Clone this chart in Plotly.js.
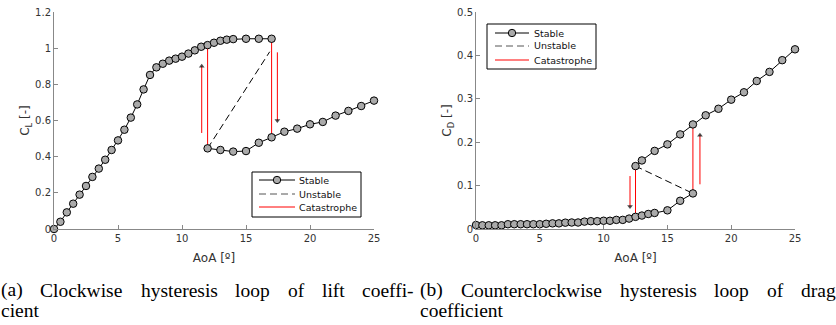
<!DOCTYPE html>
<html><head><meta charset="utf-8">
<script src="https://cdn.plot.ly/plotly-3.0.1.min.js"></script>
<style>html,body{margin:0;padding:0;background:#fff;} #chart{width:836px;height:325px;}</style>
</head><body><div id="chart"></div>
<script>
// ---------- (a) lift coefficient ----------
const clUpperAoA = [0,0.5,1,1.5,2,2.5,3,3.5,4,4.5,5,5.5,6,6.5,7,7.5,8,8.5,9,9.5,10,10.5,11,11.5,12,12.5,13,13.5,14,15,16,17];
const clUpperVal = [0,0.04,0.092,0.14,0.19,0.238,0.288,0.334,0.383,0.437,0.49,0.549,0.616,0.689,0.772,0.852,0.894,0.914,0.931,0.942,0.953,0.97,0.988,1.008,1.017,1.03,1.041,1.047,1.05,1.052,1.052,1.052];
const clLowerAoA = [12,13,14,15,16,17,18,19,20,21,22,23,24,25];
const clLowerVal = [0.446,0.437,0.428,0.431,0.477,0.507,0.538,0.555,0.579,0.592,0.627,0.653,0.68,0.71];
const clUnstableAoA = [12,16.85];
const clUnstableVal = [0.446,0.98];
const clJump1AoA = [12,12];
const clJump1Val = [0.446,1.017];
const clJump2AoA = [17,17];
const clJump2Val = [1.052,0.507];
const clArrowUpAoA = [11.54,11.54];
const clArrowUpVal = [0.531,0.9];
const clArrowDownAoA = [17.45,17.45];
const clArrowDownVal = [0.977,0.6];

// ---------- (b) drag coefficient ----------
const cdLowerAoA = [0,0.5,1,1.5,2,2.5,3,3.5,4,4.5,5,5.5,6,6.5,7,7.5,8,8.5,9,9.5,10,10.5,11,11.5,12,12.5,13,13.5,14,15,16,17];
const cdLowerVal = [0.0092,0.0085,0.0085,0.0085,0.0085,0.011,0.011,0.011,0.011,0.011,0.011,0.012,0.013,0.013,0.0146,0.015,0.015,0.017,0.018,0.018,0.019,0.019,0.021,0.021,0.024,0.028,0.031,0.0346,0.037,0.043,0.065,0.082];
const cdUpperAoA = [12.5,13,14,15,16,17,18,19,20,21,22,23,24,25];
const cdUpperVal = [0.145,0.158,0.18,0.195,0.218,0.241,0.262,0.277,0.298,0.315,0.341,0.362,0.389,0.414];
const cdUnstableAoA = [12.5,17];
const cdUnstableVal = [0.145,0.082];
const cdJump1AoA = [12.5,12.5];
const cdJump1Val = [0.145,0.028];
const cdJump2AoA = [17,17];
const cdJump2Val = [0.082,0.241];
const cdArrowDownAoA = [12.07,12.07];
const cdArrowDownVal = [0.122,0.052];
const cdArrowUpAoA = [17.55,17.55];
const cdArrowUpVal = [0.103,0.216];

// ---------- text ----------
const xTicks = [0,5,10,15,20,25];
const clTicks = [0,0.2,0.4,0.6,0.8,1,1.2];
const clTickText = ['0','0.2','0.4','0.6','0.8','1','1.2'];
const cdTicks = [0,0.1,0.2,0.3,0.4,0.5];
const cdTickText = ['0','0.1','0.2','0.3','0.4','0.5'];
const legendNames = ['Stable','Unstable','Catastrophe'];
const captionA1 = '(a) Clockwise hysteresis loop of lift coeffi-';
const captionA2 = 'cient';
const captionB1 = '(b) Counterclockwise hysteresis loop of drag';
const captionB2 = 'coefficient';

const W = 836, H = 325;
const px = v => v / W;
const py = v => 1 - v / H;

const MARK = {size: 7.5, color: '#aaaaaa', line: {color: '#000', width: 1}};
function stable(x, y, xa, ya) {
  return {x, y, xaxis: xa, yaxis: ya, type: 'scatter', mode: 'lines+markers', cliponaxis: false,
    line: {color: '#000', width: 1}, marker: MARK, showlegend: false, hoverinfo: 'skip'};
}
function unstable(x, y, xa, ya) {
  return {x, y, xaxis: xa, yaxis: ya, type: 'scatter', mode: 'lines', cliponaxis: false,
    line: {color: '#000', width: 1, dash: '7px,4px'}, showlegend: false, hoverinfo: 'skip'};
}
function jump(x, y, xa, ya) {
  return {x, y, xaxis: xa, yaxis: ya, type: 'scatter', mode: 'lines', cliponaxis: false,
    line: {color: '#ff0000', width: 1}, showlegend: false, hoverinfo: 'skip'};
}
function arrow(x, y, xa, ya) {
  const up = y[1] > y[0];
  return {x, y, xaxis: xa, yaxis: ya, type: 'scatter', mode: 'lines+markers', cliponaxis: false,
    line: {color: '#ff0000', width: 1},
    marker: {symbol: ['circle', up ? 'triangle-up' : 'triangle-down'], size: [0, 5], color: '#000', line: {width: 0}},
    showlegend: false, hoverinfo: 'skip'};
}

const data = [
  unstable(clUnstableAoA, clUnstableVal, 'x', 'y'),
  jump(clJump1AoA, clJump1Val, 'x', 'y'),
  jump(clJump2AoA, clJump2Val, 'x', 'y'),
  arrow(clArrowUpAoA, clArrowUpVal, 'x', 'y'),
  arrow(clArrowDownAoA, clArrowDownVal, 'x', 'y'),
  stable(clUpperAoA, clUpperVal, 'x', 'y'),
  stable(clLowerAoA, clLowerVal, 'x', 'y'),
  unstable(cdUnstableAoA, cdUnstableVal, 'x2', 'y2'),
  jump(cdJump1AoA, cdJump1Val, 'x2', 'y2'),
  jump(cdJump2AoA, cdJump2Val, 'x2', 'y2'),
  arrow(cdArrowDownAoA, cdArrowDownVal, 'x2', 'y2'),
  arrow(cdArrowUpAoA, cdArrowUpVal, 'x2', 'y2'),
  stable(cdLowerAoA, cdLowerVal, 'x2', 'y2'),
  stable(cdUpperAoA, cdUpperVal, 'x2', 'y2')
];

const tickFont = {family: 'DejaVu Sans, sans-serif', size: 10, color: '#333'};
const titleFont = {family: 'DejaVu Sans, sans-serif', size: 12, color: '#333'};
function xAxis(domain, anchor) {
  return {domain, anchor, range: [0, 25], tickvals: xTicks, ticktext: xTicks.map(String),
    ticks: 'inside', ticklen: 4, tickcolor: '#888', showline: true, linecolor: '#888', linewidth: 1,
    showgrid: false, zeroline: false, tickfont: tickFont, fixedrange: true,
    title: {text: 'AoA [º]', font: titleFont, standoff: 10}};
}
function yAxis(domain, anchor, range, vals, text, title) {
  return {domain, anchor, range, tickvals: vals, ticktext: text,
    ticks: 'inside', ticklen: 4, tickcolor: '#888', showline: true, linecolor: '#888', linewidth: 1,
    showgrid: false, zeroline: false, tickfont: tickFont, fixedrange: true,
    title: {text: title, font: titleFont, standoff: 2}};
}

// custom legends
const shapes = [];
const annotations = [];
function legend(box, rows, sx0, sx1, mx, tx) {
  shapes.push({type: 'rect', xref: 'paper', yref: 'paper', x0: px(box[0]), x1: px(box[1]), y0: py(box[2]), y1: py(box[3]),
    line: {color: '#000', width: 1}, fillcolor: '#fff', layer: 'above'});
  shapes.push({type: 'line', xref: 'paper', yref: 'paper', x0: px(sx0), x1: px(sx1), y0: py(rows[0]), y1: py(rows[0]),
    line: {color: '#000', width: 1}, layer: 'above'});
  shapes.push({type: 'circle', xref: 'paper', yref: 'paper', x0: px(mx - 3.7), x1: px(mx + 3.7), y0: py(rows[0] - 3.7), y1: py(rows[0] + 3.7),
    line: {color: '#000', width: 1}, fillcolor: '#aaaaaa', layer: 'above'});
  shapes.push({type: 'line', xref: 'paper', yref: 'paper', x0: px(sx0), x1: px(sx1), y0: py(rows[1]), y1: py(rows[1]),
    line: {color: '#555', width: 1, dash: '7px,4px'}, layer: 'above'});
  shapes.push({type: 'line', xref: 'paper', yref: 'paper', x0: px(sx0), x1: px(sx1), y0: py(rows[2]), y1: py(rows[2]),
    line: {color: '#ff0000', width: 1}, layer: 'above'});
  legendNames.forEach((n, i) => annotations.push({text: n, xref: 'paper', yref: 'paper', x: px(tx), y: py(rows[i]),
    xanchor: 'left', yanchor: 'middle', showarrow: false, borderpad: 0,
    font: {family: 'DejaVu Sans, sans-serif', size: 9.5, color: '#111'}}));
}
legend([252, 361, 172, 217], [180, 194, 207], 259, 295, 277, 298);
legend([487, 596, 24, 69], [33, 46, 60], 495, 529, 512, 533);

// captions (justified first lines)
const capFont = {family: 'Liberation Serif, serif', size: 19.5, color: '#000'};
const ctx = document.createElement('canvas').getContext('2d');
ctx.font = capFont.size + 'px "Liberation Serif"';
function justified(line, x0, x1, yc) {
  const words = line.split(' ');
  const w = words.map(t => ctx.measureText(t).width);
  const gap = (x1 - x0 - w.reduce((a, b) => a + b, 0)) / (words.length - 1);
  let x = x0;
  words.forEach((t, i) => {
    annotations.push({text: t, xref: 'paper', yref: 'paper', x: px(x), y: py(yc), xanchor: 'left', yanchor: 'middle',
      showarrow: false, borderpad: 0, font: capFont});
    x += w[i] + gap;
  });
}
function plain(line, x0, yc) {
  annotations.push({text: line, xref: 'paper', yref: 'paper', x: px(x0), y: py(yc), xanchor: 'left', yanchor: 'middle',
    showarrow: false, borderpad: 0, font: capFont});
}
justified(captionA1, 0, 413, 290);
plain(captionA2, 0, 310);
justified(captionB1, 419, 835, 290);
plain(captionB2, 419, 310);

const layout = {
  width: W, height: H, margin: {l: 0, r: 0, t: 0, b: 0}, paper_bgcolor: '#fff', plot_bgcolor: 'rgba(0,0,0,0)',
  showlegend: false,
  xaxis: xAxis([px(54), px(374)], 'y'),
  yaxis: yAxis([py(229), py(12)], 'x', [0, 1.2], clTicks, clTickText, 'C<sub>L</sub> [-]'),
  xaxis2: xAxis([px(476), px(795)], 'y2'),
  yaxis2: yAxis([py(229), py(12)], 'x2', [0, 0.5], cdTicks, cdTickText, 'C<sub>D</sub> [-]'),
  shapes, annotations
};
Plotly.newPlot('chart', data, layout, {displayModeBar: false, staticPlot: true});
</script></body></html>
